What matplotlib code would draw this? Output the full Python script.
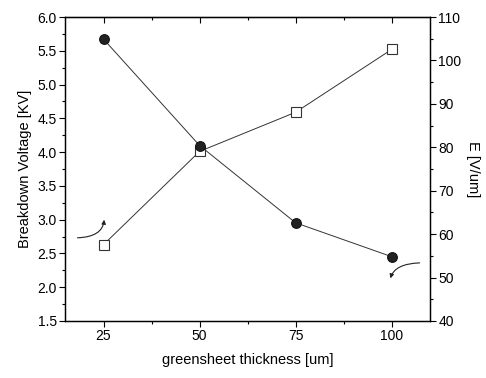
import matplotlib
matplotlib.use("Agg")
import matplotlib.pyplot as plt
from matplotlib.ticker import MultipleLocator

plt.rcParams["font.family"] = ["Liberation Sans", "DejaVu Sans"]

thickness = [25, 50, 75, 100]
voltage = [2.63, 4.01, 4.59, 5.52]   # left axis, kV
field = [104.9, 80.4, 62.6, 54.8]    # right axis, V/um

fig = plt.figure(figsize=(4.86, 3.78), dpi=100)
ax = fig.add_axes([0.134, 0.151, 0.751, 0.804])
ax2 = ax.twinx()

ax.plot(thickness, voltage, "-", color="#333333", lw=0.7,
        marker="s", ms=7, mfc="white", mec="#333333", mew=0.8, zorder=3)
ax2.plot(thickness, field, "-", color="#333333", lw=0.7,
         marker="o", ms=7, mfc="#222222", mec="#111111", mew=0.8, zorder=3)

ax.set_xlim(15, 110)
ax.set_ylim(1.5, 6.0)
ax2.set_ylim(40, 110)

ax.xaxis.set_major_locator(MultipleLocator(25))
ax.xaxis.set_minor_locator(MultipleLocator(12.5))
ax.yaxis.set_major_locator(MultipleLocator(0.5))
ax.yaxis.set_minor_locator(MultipleLocator(0.25))
ax2.yaxis.set_major_locator(MultipleLocator(10))
ax2.yaxis.set_minor_locator(MultipleLocator(5))

ax.tick_params(which="major", direction="out", length=4, width=0.8, labelsize=10, pad=2)
ax.tick_params(which="minor", direction="out", length=2.5, width=0.8)
ax2.tick_params(which="major", direction="out", length=4, width=0.8, labelsize=10, pad=2)
ax2.tick_params(which="minor", direction="out", length=2.5, width=0.8)

# mirror ticks on top, pointing inwards
top = ax.secondary_xaxis("top")
top.xaxis.set_major_locator(MultipleLocator(25))
top.xaxis.set_minor_locator(MultipleLocator(12.5))
top.tick_params(which="major", direction="in", length=4, width=0.8, labeltop=False)
top.tick_params(which="minor", direction="in", length=2.5, width=0.8)

for a in (ax, ax2):
    for s in a.spines.values():
        s.set_linewidth(0.9)

ax.set_xlabel("greensheet thickness [um]", fontsize=10.5, labelpad=7)
ax.set_ylabel("Breakdown Voltage [KV]", fontsize=10.5, labelpad=4)
ax2.set_ylabel("E [V/um]", fontsize=10.5, labelpad=3, rotation=270, va="bottom")

# curly arrows pointing at the matching axis
ax.annotate("", xy=(25.2, 3.04), xytext=(17.5, 2.73),
            arrowprops=dict(arrowstyle="-|>", lw=0.8, color="#222222",
                            mutation_scale=6,
                            connectionstyle="angle3,angleA=0,angleB=90"))
ax.annotate("", xy=(99.5, 2.09), xytext=(108.0, 2.36),
            arrowprops=dict(arrowstyle="-|>", lw=0.8, color="#222222",
                            mutation_scale=6,
                            connectionstyle="angle3,angleA=0,angleB=80"))

fig.savefig("out.png", dpi=100)
